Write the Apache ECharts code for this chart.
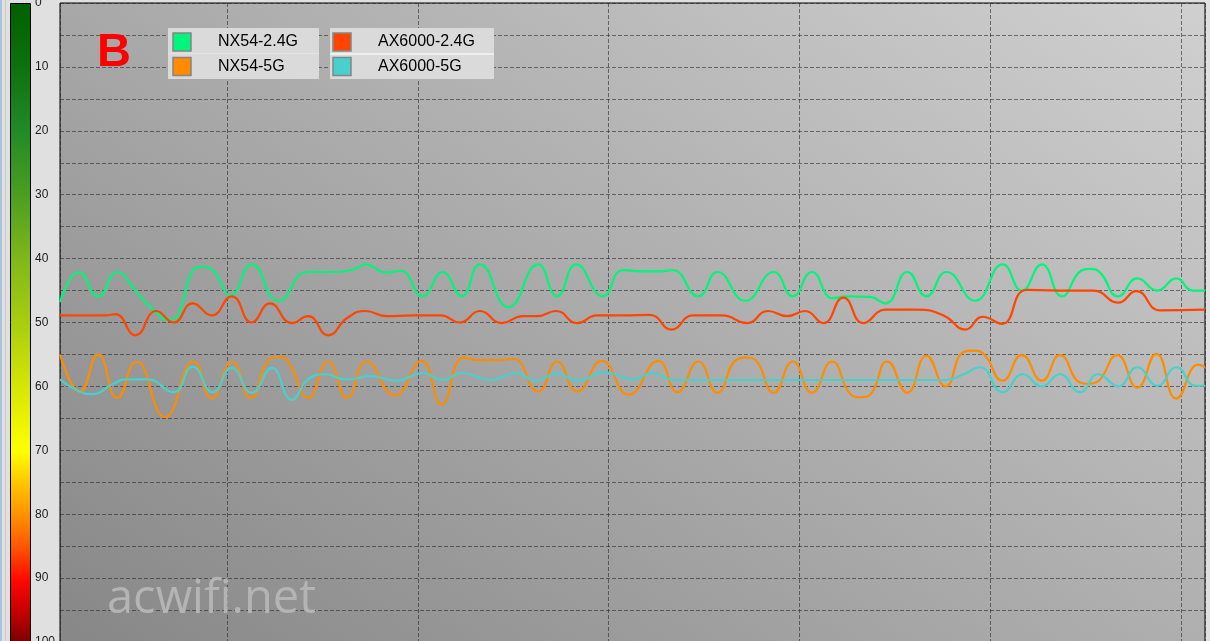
<!DOCTYPE html>
<html><head><meta charset="utf-8">
<script src="https://cdn.jsdelivr.net/npm/echarts@6.0.0/dist/echarts.min.js"></script>
<style>html,body{margin:0;padding:0;background:#e0e0e0;}#c{width:1210px;height:641px;}</style>
</head><body><div id="c"></div>
<script>
// time axis (one grid division = 10 units), signal value 0..100 (inverted axis)
const nx24Time = [1.25, 2.25, 3.25, 4.25, 5.25, 6.25, 6.9, 7.35, 8.25, 8.7, 9.25, 10.2, 11.3, 12.7, 14.25, 15.8, 16.7, 17.25, 18.35, 19.1, 20.25, 21.3, 22.3, 23.25, 24.75, 26.3, 27.3, 28.3, 29.7, 30.75, 31.75, 32.75, 33.35, 34.7, 35.7, 37.15, 38.65, 39.65, 40.65, 41.75, 42.5, 43.7, 44.5, 45.65, 46.65, 47.7, 49.2, 50.65, 51.65, 52.7, 53.75, 54.75, 55.2, 55.75, 56.7, 57.7, 58.75, 59.75, 60.6, 61.25];
const nx24Val  = [46.8, 42.1, 45.9, 42.1, 45.2, 48.3, 49.6, 49.2, 41.7, 41.3, 41.8, 45.7, 40.9, 46.6, 42.1, 42.1, 41.6, 40.9, 42.2, 41.9, 45.9, 42.1, 45.9, 40.9, 47.6, 40.9, 45.9, 40.9, 45.9, 41.8, 42.0, 42.0, 41.8, 45.9, 42.1, 46.6, 42.1, 45.9, 42.1, 46.2, 45.9, 46.0, 47.0, 42.1, 45.9, 42.1, 46.6, 40.9, 45.0, 40.9, 45.9, 41.9, 41.6, 42.2, 45.9, 43.1, 45.0, 43.1, 45.0, 45.0];

const nx5Time = [1.25, 2.3, 3.25, 4.25, 5.25, 6.75, 8.25, 9.2, 10.25, 11.25, 12.25, 12.75, 13.25, 14.25, 15.3, 16.3, 17.3, 18.8, 20.2, 21.25, 22.4, 23.25, 24.25, 25.0, 26.3, 27.3, 28.35, 29.65, 31.05, 32.6, 33.6, 34.7, 35.7, 36.7, 37.2, 37.7, 38.65, 39.65, 40.65, 41.7, 42.7, 43.2, 43.7, 44.6, 45.65, 46.65, 47.65, 48.6, 49.1, 49.6, 50.65, 51.65, 52.7, 53.65, 54.7, 55.15, 55.6, 56.65, 57.7, 58.7, 59.75, 60.9, 61.25];
const nx5Val  = [55.0, 60.8, 55.0, 61.8, 56.1, 64.8, 56.1, 61.9, 56.1, 61.8, 55.7, 55.4, 56.3, 61.8, 56.1, 61.8, 56.1, 61.4, 56.0, 62.8, 55.5, 55.9, 55.9, 55.7, 60.8, 56.1, 60.8, 56.0, 61.3, 56.0, 60.9, 56.1, 61.0, 55.8, 55.5, 55.9, 61.0, 56.1, 61.0, 56.1, 61.3, 61.7, 61.3, 56.1, 61.0, 55.2, 60.0, 54.6, 54.4, 54.8, 59.1, 55.1, 59.1, 55.1, 59.4, 59.6, 59.3, 55.1, 60.2, 54.9, 61.9, 56.6, 57.0];

const ax24Time = [1.25, 3.6, 4.15, 5.2, 6.3, 7.2, 8.2, 9.2, 10.25, 11.3, 12.25, 13.4, 14.25, 15.3, 16.3, 17.25, 18.35, 19.75, 21.2, 22.2, 23.25, 24.4, 25.5, 26.25, 27.25, 28.35, 29.4, 30.8, 32.15, 33.3, 34.4, 35.95, 37.25, 38.35, 39.35, 40.3, 41.25, 42.3, 43.35, 44.5, 46.15, 47.55, 48.7, 49.6, 50.6, 51.9, 53.6, 55.4, 56.7, 57.65, 58.9, 61.25];
const ax24Val  = [48.9, 48.9, 48.7, 52.0, 48.2, 50.0, 47.0, 48.9, 45.9, 50.0, 47.0, 50.1, 49.0, 52.0, 49.3, 48.2, 49.0, 48.9, 48.9, 50.0, 48.2, 50.1, 49.0, 49.0, 48.2, 50.1, 48.9, 48.9, 48.8, 51.1, 48.9, 48.9, 50.1, 48.2, 49.0, 48.2, 50.1, 46.1, 50.1, 48.0, 48.0, 48.9, 51.1, 49.1, 50.2, 44.9, 45.0, 45.0, 46.9, 45.1, 48.1, 48.0];

const ax5Time = [1.25, 2.2, 2.9, 4.1, 4.65, 5.85, 7.2, 8.2, 9.25, 10.25, 11.3, 12.35, 13.4, 14.25, 15.15, 16.2, 16.7, 17.5, 18.9, 20.25, 21.3, 22.3, 23.8, 25.2, 26.15, 27.3, 28.35, 29.8, 31.3, 32.3, 33.4, 38.0, 43.0, 47.65, 48.6, 49.45, 50.65, 51.7, 52.7, 53.65, 54.7, 55.65, 56.7, 57.7, 58.75, 59.75, 60.75, 61.25];
const ax5Val  = [58.9, 60.7, 61.2, 59.5, 58.9, 58.9, 60.9, 56.9, 60.9, 57.1, 61.0, 57.1, 62.1, 58.9, 58.1, 58.9, 58.8, 58.4, 59.1, 57.9, 59.0, 57.9, 59.0, 57.9, 59.1, 58.0, 59.1, 57.8, 58.9, 57.9, 59.0, 59.0, 59.0, 59.0, 58.1, 57.0, 60.9, 58.1, 60.0, 58.1, 60.9, 58.1, 60.0, 57.0, 59.9, 57.0, 59.9, 59.9];

const seriesNames  = ['NX54-2.4G', 'NX54-5G', 'AX6000-2.4G', 'AX6000-5G'];
const seriesColors = ['#00f57a', '#ff8c00', '#ff4500', '#48d1cc'];
const seriesTimes  = [nx24Time, nx5Time, ax24Time, ax5Time];
const seriesVals   = [nx24Val, nx5Val, ax24Val, ax5Val];
const timeRange = [1.25, 61.25];
const valueRange = [0, 100];
const panelLabel = 'B';
const watermark = 'acwifi.net';

const chart = echarts.init(document.getElementById('c'), null, {renderer: 'canvas'});

const font = 'Liberation Sans, Arial, sans-serif';
// legend layout: two columns, two rows  [name index, column, row]
const legendLayout = [[0, 0, 0], [1, 0, 1], [2, 1, 0], [3, 1, 1]];
const colBox = [{x: 168, w: 151, sq: 173, tx: 218}, {x: 330, w: 164, sq: 333, tx: 378}];
const rowY = [42, 66.5];
const graphics = [];
// left window edge
graphics.push({type: 'rect', shape: {x: 0, y: 0, width: 2, height: 641}, style: {fill: '#a9c2dd'}, z: 1});
graphics.push({type: 'rect', shape: {x: 5, y: 0, width: 1, height: 641}, style: {fill: '#c8c8c8'}, z: 1});
// colour scale bar
graphics.push({
  type: 'rect', shape: {x: 10.5, y: 3.5, width: 20, height: 640},
  style: {
    fill: new echarts.graphic.LinearGradient(0, 0, 0, 1, [
      {offset: 0, color: '#006000'}, {offset: 0.1, color: '#0f700f'},
      {offset: 0.2, color: '#228a28'}, {offset: 0.3, color: '#4c9e20'},
      {offset: 0.4, color: '#80b818'}, {offset: 0.5, color: '#aacd10'},
      {offset: 0.6, color: '#d6e606'}, {offset: 0.7, color: '#ffff00'},
      {offset: 0.75, color: '#ffc400'}, {offset: 0.8, color: '#ff9000'},
      {offset: 0.85, color: '#ff5400'}, {offset: 0.9, color: '#ff0800'},
      {offset: 0.95, color: '#c40000'}, {offset: 1, color: '#780000'}
    ]),
    stroke: '#000', lineWidth: 1
  }, z: 2
});
// panel label
graphics.push({type: 'text', x: 97, y: 53, z: 20,
  style: {text: panelLabel, font: 'bold 47px ' + font, fill: '#ff0000', textAlign: 'left', textVerticalAlign: 'middle'}});
// legend boxes
colBox.forEach((c, ci) => {
  graphics.push({type: 'rect', shape: {x: c.x, y: 28, width: c.w, height: 51}, style: {fill: '#dadada'}, z: 20});
  graphics.push({type: 'rect', shape: {x: c.x, y: 53, width: c.w, height: ci ? 2 : 1}, style: {fill: ci ? '#efefef' : '#e4e4e4'}, z: 21});
});
legendLayout.forEach(([si, ci, ri]) => {
  const c = colBox[ci];
  graphics.push({type: 'rect', shape: {x: c.sq, y: rowY[ri] - 9, width: 18, height: 18},
    style: {fill: seriesColors[si], stroke: '#858585', lineWidth: 1.5}, z: 22});
  graphics.push({type: 'text', x: c.tx, y: rowY[ri], z: 22,
    style: {text: seriesNames[si], font: '16px ' + font, fill: '#000', textAlign: 'left', textVerticalAlign: 'middle'}});
});
// watermark
graphics.push({type: 'text', x: 107, y: 600, z: 30,
  style: {text: watermark, font: '47px "Open Sans", "Noto Sans", sans-serif', fill: '#b4b4b4',
    textAlign: 'left', textVerticalAlign: 'middle',
    shadowColor: 'rgba(40,40,40,0.75)', shadowBlur: 3, shadowOffsetX: 2, shadowOffsetY: 2}});

const dashed = {color: 'rgba(40,40,40,0.6)', width: 1, type: [4, 2]};

const option = {
  animation: false,
  backgroundColor: '#e0e0e0',
  grid: {
    left: 60, right: 5, top: 3, height: 639,
    outerBoundsMode: 'none', containLabel: false,
    show: true, borderColor: '#000', borderWidth: 1,
    backgroundColor: {
      type: 'linear', x: 0, y: 1, x2: 0.574, y2: -0.514,
      colorStops: [{offset: 0, color: '#878787'}, {offset: 1, color: '#d0d0d0'}]
    }
  },
  xAxis: {
    type: 'value', min: timeRange[0], max: timeRange[1],
    splitNumber: 6, minInterval: 10, maxInterval: 10,
    axisLine: {show: false}, axisTick: {show: false}, axisLabel: {show: false},
    splitLine: {show: true, lineStyle: dashed}
  },
  yAxis: {
    type: 'value', inverse: true, min: valueRange[0], max: valueRange[1], interval: 10,
    axisLine: {show: false}, axisTick: {show: false},
    axisLabel: {show: true, align: 'left', margin: 25, fontSize: 12, fontFamily: font, color: '#1b1b1b'},
    splitLine: {show: true, lineStyle: dashed},
    minorTick: {show: false, splitNumber: 2},
    minorSplitLine: {show: true, lineStyle: dashed}
  },
  series: seriesNames.map((name, i) => ({
    type: 'line', name: name,
    data: seriesTimes[i].map((t, k) => [t, seriesVals[i][k]]),
    smooth: 0.5, symbol: 'none', showSymbol: false,
    lineStyle: {width: 2.2, color: seriesColors[i]},
    itemStyle: {color: seriesColors[i]},
    z: 3 + i
  })),
  graphic: graphics
};
chart.setOption(option);
</script></body></html>
